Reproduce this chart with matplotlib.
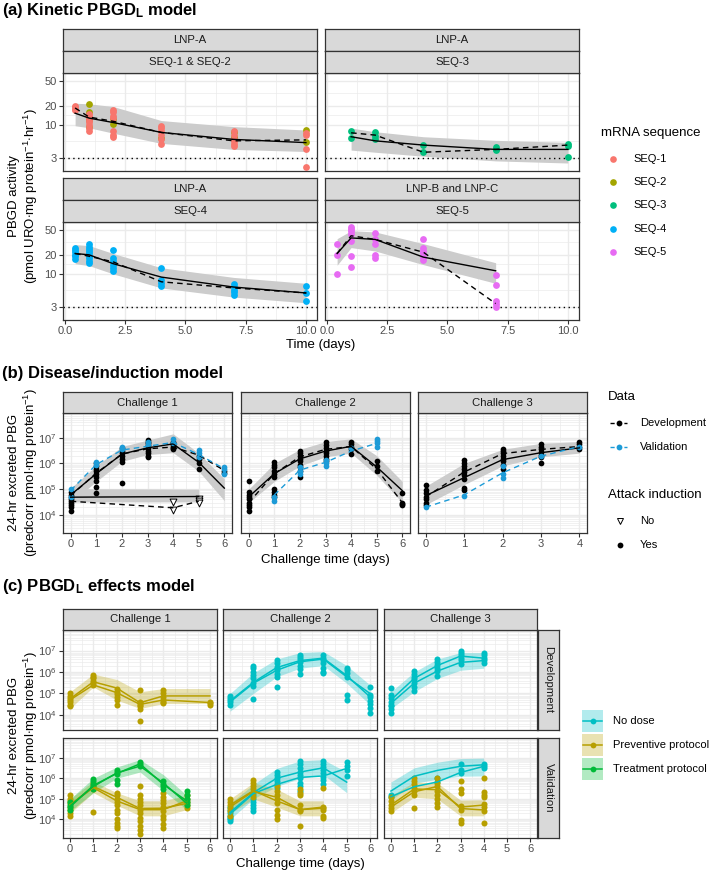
import numpy as np
import matplotlib
matplotlib.use("Agg")
import matplotlib.pyplot as plt
from matplotlib.patches import Rectangle
from matplotlib.ticker import NullFormatter

plt.rcParams['font.family'] = ['Liberation Sans', 'DejaVu Sans']
plt.rcParams['mathtext.fontset'] = 'custom'
plt.rcParams['mathtext.rm'] = 'Liberation Sans'
plt.rcParams['mathtext.bf'] = 'Liberation Sans:bold'
plt.rcParams['mathtext.it'] = 'Liberation Sans:italic'
plt.rcParams['mathtext.default'] = 'rm'

# ── Data : (a) kinetic model ─────────────────────────────────────────────
a_t = [0.42, 1, 2, 4, 7, 10]
seq1_pts = {0.42: [20, 19, 18, 17.5], 1: [15, 14, 13, 12, 11, 10, 9, 8],
            2: [17, 16, 14, 13, 8, 7, 6.5], 4: [9.5, 9, 8, 7, 6, 5],
            7: [8, 7, 6, 5.5, 5, 4.7], 10: [7.5, 7, 4.2, 2.2]}
seq2_pts = {1: [21, 16, 12, 9.3], 2: [12.4, 10.4], 4: [6.3], 7: [7.8, 6.5], 10: [8.2, 5.3]}
f12_model = [15.3, 12.8, 10.9, 7.6, 5.9, 5.25]
f12_obs = [18.5, 13.3, 11.4, 7.6, 5.6, 5.8]
f12_lo = [9.7, 9.0, 7.4, 5.1, 4.1, 3.8]
f12_hi = [22, 21.5, 19.5, 11.7, 9.4, 8.3]

seq3_t = [1, 2, 4, 7, 10]
seq3_pts = {1: [8.0, 6.2], 2: [7.6, 6.6, 6.0], 4: [4.8, 3.7], 7: [4.4, 4.2, 4.0], 10: [5.0, 4.6, 3.1]}
f3_model = [6.5, 5.6, 4.8, 4.1, 4.1]
f3_obs = [7.5, 6.9, 3.7, 4.1, 4.8]
f3_lo = [4.0, 3.7, 3.2, 2.7, 2.5]
f3_hi = [8.9, 7.8, 6.5, 5.7, 5.3]

seq4_pts = {0.42: [26, 24, 22, 20, 19, 17], 1: [30, 27, 25, 23, 21, 19, 18, 16, 15],
            2: [24, 18, 16, 14, 12.5, 11], 4: [12.5, 8, 7.2, 6.5],
            7: [7, 6.2, 5.6, 5.1, 4.6], 10: [6.4, 5.0, 3.7]}
f4_model = [21, 20, 14.5, 8.9, 6.2, 5.0]
f4_obs = [21, 19, 15.5, 7.5, 6.0, 5.0]
f4_lo = [14.5, 13.5, 10, 6, 4.3, 3.5]
f4_hi = [29, 28, 21, 12.5, 8.8, 7.1]

seq5_t = [0.42, 1, 2, 4, 7]
seq5_pts = {0.42: [30, 20, 10], 1: [56, 52, 47, 42, 33, 19, 13], 2: [45, 35, 30, 20, 18],
            4: [36, 26, 23, 21, 18.7, 16.4], 7: [9.5, 6.6, 3.8, 3.3, 3.0]}
f5_model = [21, 37, 35, 18.4, 11.2]
f5_obs = [21, 40, 35, 22, 3.4]
f5_lo = [13.7, 26, 23, 14, 7.1]
f5_hi = [36, 48, 46, 30, 15]

seq_names = ["SEQ-1", "SEQ-2", "SEQ-3", "SEQ-4", "SEQ-5"]
seq_colors = ["#F8766D", "#A3A500", "#00BF7D", "#00B0F6", "#E76BF3"]

# ── Data : (b) disease/induction model ───────────────────────────────────
c1_t = [0, 1, 2, 3, 4, 5, 6]
c1_dev = {0: [8e4, 6e4, 5e4, 4e4, 3.5e4, 3e4, 2.5e4, 2e4, 1.4e4],
          1: [1e6, 8e5, 6e5, 5e5, 4e5, 3e5, 2e5, 1.2e5, 7e4],
          2: [4e6, 3e6, 2.5e6, 2e6, 1.5e6, 1.1e6, 1.7e5],
          3: [8e6, 7e6, 6e6, 5e6, 4e6, 3e6, 2.5e6, 2e6, 1.7e6],
          4: [7e6, 6e6, 5e6, 4.5e6, 4e6, 3.5e6],
          5: [2e6, 1.5e6, 1e6, 6e5], 6: [5e5, 4.3e5]}
c1_val = {0: [1e5, 5e4], 1: [1.1e6, 9e5], 2: [4.5e6, 3.5e6], 3: [7e6, 5e6],
          4: [8.5e6, 6e6], 5: [3.4e6, 2.5e6, 1.8e6], 6: [7e5, 6e5, 4e5]}
c1_model = [6e4, 4e5, 2.3e6, 4e6, 5.7e6, 1.1e6, 1.1e5]
c1_dev_obs = [5.6e4, 4.2e5, 2.3e6, 3.7e6, 4.3e6, 2.1e6, 5.3e5]
c1_val_obs = [9e4, 9e5, 3.3e6, 4.6e6, 6.5e6, 2.2e6, 6.2e5]
c1_lo = [3e4, 2e5, 1.2e6, 2.2e6, 2.6e6, 5e5, 3.6e4]
c1_hi = [1.1e5, 8e5, 4.5e6, 8e6, 1.4e7, 2.5e6, 2.5e5]
no_t = [0, 5]
no_model = [4.9e4, 5.2e4]
no_lo = [3.2e4, 3.2e4]
no_hi = [1.05e5, 1.0e5]
no_obs_t = [0, 4, 5]
no_obs = [3.4e4, 1.9e4, 3.4e4]
no_pts = {4: [3.2e4, 1.5e4], 5: [4e4, 3.4e4, 3e4]}

c2_t = [0, 1, 2, 3, 4, 5, 6]
c2_dev = {0: [2e5, 8e4, 6e4, 5e4, 4e4, 3e4, 2.5e4, 2e4, 1.4e4],
          1: [1.1e6, 9e5, 7e5, 5e5, 4e5, 3e5, 1e5, 8e4, 6e4, 5e4],
          2: [3e6, 2.5e6, 2e6, 1.5e6, 1.2e6, 9e5, 7e5, 5e5, 3e5],
          3: [6.5e6, 5e6, 4e6, 3e6, 2.5e6, 2e6, 1.5e6, 1.2e6],
          4: [6.5e6, 5.5e6, 4.5e6, 3.5e6, 2.3e6],
          5: [1.2e6, 8e5, 5.3e5], 6: [7.3e4, 3e4, 2.7e4, 2.5e4]}
c2_val = {1: [5e4, 3.6e4], 2: [7e5, 5e5, 4e5], 3: [1.3e6, 1e6, 8e5], 4: [4e6],
          5: [9e6, 7.5e6, 6e6, 4.5e6]}
c2_model = [5e4, 4e5, 1.5e6, 3e6, 4.6e6, 7.3e5, 8.8e4]
c2_dev_obs = [3e4, 4e5, 1.8e6, 3.5e6, 4.5e6, 6e5, 3e4]
c2_val_t = [1, 2, 3, 4, 5]
c2_val_obs = [6e4, 5.5e5, 1.1e6, 3e6, 6e6]
c2_lo = [3e4, 2e5, 8e5, 1.8e6, 2.5e6, 3.5e5, 3e4]
c2_hi = [1e5, 1e6, 3.5e6, 7e6, 9e6, 2e6, 2e5]

c3_t = [0, 1, 2, 3, 4]
c3_dev = {0: [1.5e5, 9e4, 7e4, 5e4, 4e4, 3e4, 2.5e4],
          1: [1.3e6, 1e6, 8e5, 6e5, 4.5e5, 3.5e5, 2.5e5, 1.1e5, 9e4],
          2: [3.5e6, 3e6, 2.5e6, 2e6, 1.5e6, 1.2e6, 9e5, 6.3e5],
          3: [5.5e6, 4.5e6, 3.5e6, 2.8e6, 2.2e6, 1.7e6, 1e6],
          4: [6.5e6, 5.5e6, 4.5e6, 3.6e6]}
c3_val = {0: [2.1e4], 1: [5.6e4], 2: [7.7e5, 4e5, 2.8e5], 3: [2e6], 4: [4.5e6]}
c3_model = [5.6e4, 2.8e5, 1.4e6, 2.6e6, 4e6]
c3_dev_obs = [5e4, 4.6e5, 2.4e6, 3.5e6, 4.5e6]
c3_val_obs = [2e4, 6e4, 4.3e5, 1.9e6, 4.5e6]
c3_lo = [2.5e4, 1.5e5, 8e5, 1.8e6, 2.5e6]
c3_hi = [1.3e5, 1e6, 3.5e6, 6e6, 7e6]

# ── Data : (c) PBGD_L effects model ──────────────────────────────────────
# Development row
d1_t = [0, 1, 2, 3, 4, 5, 6]
d1_pts = {0: [1e5, 8e4, 6e4, 5e4, 4e4, 3e4, 2.6e4], 1: [7e5, 6e5, 5e5, 4e5, 3e5, 2.5e5],
          2: [1.7e5, 1.2e5, 9e4, 7e4, 5e4, 3e4], 3: [1.4e5, 4e4, 3.5e4, 3e4, 2.5e4, 2e4, 5.5e3],
          4: [1.5e5, 1e5, 7e4, 5e4, 4e4, 3.5e4], 6: [4e4, 3.5e4, 3e4]}
d1_model = [5.6e4, 3.5e5, 1.8e5, 3.7e4, 7.7e4, 7.7e4, 7.7e4]
d1_obs_t = [0, 1, 2, 3, 4, 6]
d1_obs = [5e4, 2.5e5, 1.1e5, 3.1e4, 5e4, 3.8e4]
d1_lo = [2e4, 2e5, 5e4, 2e4, 3.4e4, 3.4e4, 3.4e4]
d1_hi = [1.2e5, 8e5, 4.5e5, 1.2e5, 1.7e5, 1.7e5, 1.7e5]

d2_t = [0, 1, 2, 3, 4, 5, 6]
d2_pts = {0: [8e4, 6e4, 5e4, 4e4, 3e4], 1: [2e6, 1.5e6, 1e6, 7e5, 5e5, 3e5, 2.2e5, 5.5e4],
          2: [3.7e6, 2.5e6, 1.8e6, 1.2e6, 8e5, 5.8e5, 2.1e5],
          3: [6e6, 5e6, 4e6, 3e6, 2e6, 1.4e6, 8e5], 4: [6e6, 4.5e6, 3.5e6, 2.5e6, 1.5e6, 1e6, 9e5],
          5: [1.6e6, 1.2e6, 9e5, 5.8e5, 8.5e4, 5.2e4],
          6: [2e5, 8.5e4, 7e4, 4.7e4, 3.1e4, 2.1e4, 1.3e4]}
d2_model = [4e4, 3e5, 1.2e6, 3e6, 4e6, 6e5, 1e5]
d2_obs = [4.5e4, 3.3e5, 1.6e6, 3.4e6, 4.4e6, 6.8e5, 7e4]
d2_lo = [1.5e4, 1e5, 6e5, 1.5e6, 2e6, 3e5, 3e4]
d2_hi = [1e5, 9e5, 4e6, 8e6, 9e6, 2e6, 2.5e5]

d3_t = [0, 1, 2, 3, 4]
d3_pts = {0: [1.8e5, 8.5e4, 6e4, 4e4, 3e4, 2.5e4, 2e4, 1.3e4],
          1: [1.1e6, 8e5, 6e5, 4.5e5, 3e5, 2e5, 1.3e5], 2: [4e6, 3e6, 2.2e6, 1.6e6, 1.1e6, 6.8e5],
          3: [1e7, 8e6, 6e6, 4.5e6, 3.5e6, 2.4e6], 4: [7.5e6, 6e6, 4.5e6, 3.5e6, 2.6e6]}
d3_model = [3.5e4, 3e5, 1.1e6, 2.8e6, 3.4e6]
d3_obs = [5e4, 5e5, 2e6, 5.5e6, 4.4e6]
d3_lo = [2e4, 1.2e5, 5e5, 1.2e6, 1.5e6]
d3_hi = [1.2e5, 1e6, 4e6, 8e6, 8e6]

# Validation row
v1_t = [0, 1, 2, 3, 4, 5]
v1_trt_pts = {0: [7e4, 5e4, 4e4, 3e4], 1: [9e5, 7e5, 5e5, 4e5, 3e5],
              2: [2.5e6, 2e6, 1.7e6, 8e5, 5e5], 3: [6e6, 5e6, 4e6],
              4: [7e5, 5e5, 4e5, 3e5], 5: [2.5e5, 1.5e5, 1e5, 7e4, 5e4]}
v1_trt_model = [4.6e4, 4e5, 1.8e6, 3.9e6, 5.9e5, 6.1e4]
v1_trt_obs = [4e4, 4.5e5, 1.7e6, 5e6, 5e5, 8e4]
v1_trt_lo = [2.5e4, 2e5, 1e6, 2e6, 2.5e5, 3e4]
v1_trt_hi = [1e5, 1e6, 3.5e6, 8e6, 1.5e6, 1.5e5]
v1_prv_pts = {0: [1.5e5, 1e5, 8e4, 6e4, 4e4, 3e4, 2e4, 1.4e4], 1: [6e5, 4e5, 3e5, 2.3e4],
              2: [2e5, 1.5e5, 1e5, 7e4, 5e4, 3e4, 2e4, 1e4, 7e3, 5e3, 4e3],
              3: [4e5, 1.5e5, 1e5, 7e4, 5e4, 3e4, 2e4, 1.2e4, 8e3, 5e3, 3e3, 2e3],
              4: [2e5, 1.3e5, 9e4, 6e4, 4e4, 2.5e4, 1.5e4, 1e4, 6e3, 3.7e3],
              5: [1.5e5, 1e5, 7e4, 5e4, 3.5e4]}
v1_prv_model = [5e4, 4e5, 1.2e5, 3.4e4, 3.5e4, 6e4]
v1_prv_obs = [5e4, 3.5e5, 8e4, 3e4, 3e4, 8e4]
v1_prv_lo = [2e4, 2e5, 5e4, 1.5e4, 1.5e4, 3e4]
v1_prv_hi = [1e5, 7e5, 2e5, 8e4, 8e4, 1.5e5]

v2_t = [0, 1, 2, 3, 4, 5]
v2_nd_pts = {0: [4e4, 3e4, 2e4, 1.5e4, 1.2e4, 1e4, 8.5e3], 1: [1.5e5, 1e5, 7e4, 5e4, 3.5e4, 2.7e4],
             2: [2e6, 1.5e6, 1e6, 7e5, 5e5, 3.5e5],
             3: [7e6, 5e6, 3e6, 2e6, 1.5e6, 1e6, 6e5, 4e5, 2.5e5],
             4: [7e6, 5e6, 3.5e6, 2.5e6, 1.8e6, 1.2e6, 8e5, 5e5], 5: [6e6, 4e6, 2.5e6, 1.3e6]}
v2_nd_model = [2.2e4, 2e5, 1e6, 2e6, 3.2e6, 6.5e5]
v2_nd_obs = [1.8e4, 1.8e5, 5e5, 1.1e6, 1.3e6, 3e6]
v2_nd_lo = [1e4, 1e5, 4e5, 1e6, 1.5e6, 2e5]
v2_nd_hi = [6e4, 5e5, 3e6, 7e6, 8e6, 2e6]
v2p_t = [0, 1, 2, 3, 4]
v2_prv_pts = {0: [1e5, 7e4, 5e4, 3.5e4, 2.5e4, 1.5e4], 1: [8e5, 6e5, 4e5, 3e5, 2e5, 1.2e5],
              2: [4e5, 2.5e5, 1.5e5, 1e5, 6e4, 3e4, 1.6e4, 1e4],
              3: [3e5, 2e5, 1.5e5, 5e4, 3e4, 2.5e4, 5e3], 4: [3.5e5, 4e4, 3.5e4, 3e4, 1.4e4, 1.2e4]}
v2_prv_model = [4e4, 2.3e5, 1.2e5, 3e4, 4e4]
v2_prv_obs = [5e4, 2.5e5, 8e4, 3e4, 3.5e4]
v2_prv_lo = [2e4, 1e5, 4e4, 1.5e4, 1.5e4]
v2_prv_hi = [1e5, 6e5, 3e5, 8e4, 8e4]

v3_t = [0, 1, 2, 3, 4]
v3_nd_pts = {0: [1.6e5, 1.2e5], 2: [1.07e6, 6.6e5], 3: [5.2e6, 2.4e6, 1.8e6], 4: [5.2e6, 4e6, 3.2e6]}
v3_nd_model = [2.4e5, 1.25e6, 2.4e6, 3.8e6, 4.5e6]
v3_nd_obs = [1.26e5, 3.9e5, 6.6e5, 1.9e6, 3.8e6]
v3_nd_lo = [8.7e4, 5.7e5, 9e5, 1.25e6, 1.3e6]
v3_nd_hi = [6.6e5, 3.2e6, 6e6, 9e6, 9.5e6]
v3_prv_pts = {0: [1.2e5, 8e4, 5e4, 3.5e4, 2.5e4],
              1: [1e6, 7e5, 5e5, 3.5e5, 2.5e5, 1.5e5, 3.5e4],
              2: [1e6, 6e5, 4e5, 2.5e5, 1.5e5, 1e5, 6e4, 4e4],
              3: [7.7e5, 3e5, 2e5, 4.5e4, 3e4, 9e3, 6.6e3],
              4: [1.07e6, 2.2e5, 1.5e5, 1.2e5, 5.8e4, 4e4, 2.5e4, 6.8e3]}
v3_prv_model = [5e4, 3e5, 2.8e5, 4e4, 5e4]
v3_prv_obs = [4e4, 2.2e5, 4e5, 3.4e4, 2.9e4]
v3_prv_lo = [2.1e4, 1.2e5, 1e5, 1.5e4, 1.5e4]
v3_prv_hi = [1.4e5, 6.6e5, 6e5, 8.7e4, 9e4]

BLUE = "#1D9BD7"
C_ND, C_PRV, C_TRT = "#00BFC4", "#B79F00", "#00BA38"
c_names = ["No dose", "Preventive protocol", "Treatment protocol"]
GRID = "#EBEBEB"
RIB = "#CCCCCC"

# ── Figure ───────────────────────────────────────────────────────────────
W, H = 709, 873
fig = plt.figure(figsize=(W / 100, H / 100), dpi=100)


def pxbox(x0, y0, x1, y1):
    return [x0 / W, 1 - y1 / H, (x1 - x0) / W, (y1 - y0) / H]


def ftext(x, y, s, **kw):
    fig.text(x / W, 1 - y / H, s, **kw)


def strip(x0, y0, x1, y1, text, rot=0):
    s = fig.add_axes(pxbox(x0, y0, x1, y1))
    s.set_facecolor("#D9D9D9")
    s.set_xticks([]); s.set_yticks([])
    for sp in s.spines.values():
        sp.set_color("#333333"); sp.set_linewidth(0.9)
    s.text(0.5, 0.5, text, ha="center", va="center", rotation=rot,
           fontsize=8.2, color="#1A1A1A", transform=s.transAxes)


def setup(ax, xlim, ylim, xmaj, xmin, ymaj, ymin, xlabels, ylabels, showx, showy):
    ax.set_yscale("log")
    ax.set_xlim(*xlim); ax.set_ylim(*ylim)
    ax.set_xticks(xmaj); ax.set_xticks(xmin, minor=True)
    ax.set_yticks(ymaj); ax.set_yticks(ymin, minor=True)
    ax.set_xticklabels(xlabels); ax.set_yticklabels(ylabels)
    ax.yaxis.set_minor_formatter(NullFormatter())
    ax.grid(True, which="major", color=GRID, lw=1.0)
    ax.grid(True, which="minor", color=GRID, lw=0.5)
    ax.set_axisbelow(True)
    ax.tick_params(which="minor", length=0)
    ax.tick_params(which="major", labelsize=8, labelcolor="#4D4D4D",
                   color="#333333", width=0.8, pad=1.5)
    ax.tick_params(axis="x", which="major", length=3 if showx else 0, labelbottom=showx)
    ax.tick_params(axis="y", which="major", length=3 if showy else 0, labelleft=showy)
    for sp in ax.spines.values():
        sp.set_color("#333333"); sp.set_linewidth(0.9)


def dots(ax, pts, color, s, **kw):
    xs = [t for t, vals in pts.items() for v in vals]
    ys = [v for t, vals in pts.items() for v in vals]
    ax.scatter(xs, ys, s=s, color=color, lw=0, zorder=3, **kw)


# ── (a) ──────────────────────────────────────────────────────────────────
ftext(2, 10, r"(a) Kinetic PBGD$_\mathbf{L}$ model", fontsize=12, fontweight="bold", va="center")
a_ylim = (1.87, 66)
a_ymaj = [3, 10, 20, 50]
a_ymin = [5.48, 14.1, 31.6]
a_xmaj = [0, 2.5, 5, 7.5, 10]
a_xmin = [1.25, 3.75, 6.25, 8.75]
a_xlab = ["0.0", "2.5", "5.0", "7.5", "10.0"]
a_ylab = ["3", "10", "20", "50"]

a_facets = [
    ((63, 73, 317, 171), "LNP-A", "SEQ-1 & SEQ-2", a_t, [(seq2_pts, seq_colors[1]), (seq1_pts, seq_colors[0])],
     f12_model, f12_obs, f12_lo, f12_hi, False, True),
    ((325, 73, 579, 171), "LNP-A", "SEQ-3", seq3_t, [(seq3_pts, seq_colors[2])],
     f3_model, f3_obs, f3_lo, f3_hi, False, False),
    ((63, 222, 317, 320), "LNP-A", "SEQ-4", a_t, [(seq4_pts, seq_colors[3])],
     f4_model, f4_obs, f4_lo, f4_hi, True, True),
    ((325, 222, 579, 320), "LNP-B and LNP-C", "SEQ-5", seq5_t, [(seq5_pts, seq_colors[4])],
     f5_model, f5_obs, f5_lo, f5_hi, True, False),
]
for (x0, y0, x1, y1), s1, s2, t, groups, model, obs, lo, hi, showx, showy in a_facets:
    ax = fig.add_axes(pxbox(x0, y0, x1, y1))
    setup(ax, (-0.083, 10.46), a_ylim, a_xmaj, a_xmin, a_ymaj, a_ymin, a_xlab, a_ylab, showx, showy)
    ax.fill_between(t, lo, hi, color=RIB, lw=0, zorder=1)
    ax.axhline(3, color="black", ls=(0, (1, 2.5)), lw=1.0, zorder=2)
    for pts, c in groups:
        dots(ax, pts, c, 24)
    ax.plot(t, obs, color="black", ls=(0, (4, 3)), lw=1.0, zorder=4)
    ax.plot(t, model, color="black", lw=1.0, zorder=4)
    strip(x0, y0 - 44, x1, y0 - 22, s1)
    strip(x0, y0 - 22, x1, y0, s2)

ftext(24, 196, "PBGD activity\n(pmol URO$\\cdot$mg protein$^{-1}$$\\cdot$hr$^{-1}$)",
      rotation=90, ha="center", va="center", fontsize=9.5, multialignment="center", linespacing=1.1)
ftext(321, 345, "Time (days)", ha="center", va="center", fontsize=9.5)

ftext(601, 133, "mRNA sequence", va="center", fontsize=9.5)
for i, (name, c) in enumerate(zip(seq_names, seq_colors)):
    yy = 159 + i * 23.2
    fig.add_artist(plt.Line2D([613 / W], [1 - yy / H], marker="o", ls="", color=c, markersize=4.8,
                              markeredgewidth=0, transform=fig.transFigure))
    ftext(633, yy, name, va="center", fontsize=8)

# ── (b) ──────────────────────────────────────────────────────────────────
ftext(2, 373, "(b) Disease/induction model", fontsize=12, fontweight="bold", va="center")
dec = [1e4, 1e5, 1e6, 1e7]
dec_min = [k * 10.0 ** e for e in range(3, 8) for k in range(2, 10)]
dec_lab = ["$10^{4}$", "$10^{5}$", "$10^{6}$", "$10^{7}$"]
b_ylim = (10 ** 3.97, 10 ** 7.3)

b_facets = [
    ((63, 413, 232, 533), "Challenge 1", c1_t, c1_dev, c1_val, c1_model, c1_dev_obs, c1_t, c1_val_obs,
     c1_lo, c1_hi, (-0.3, 6.3), True),
    ((241, 413, 410, 533), "Challenge 2", c2_t, c2_dev, c2_val, c2_model, c2_dev_obs, c2_val_t, c2_val_obs,
     c2_lo, c2_hi, (-0.3, 6.3), False),
    ((418, 413, 587, 533), "Challenge 3", c3_t, c3_dev, c3_val, c3_model, c3_dev_obs, c3_t, c3_val_obs,
     c3_lo, c3_hi, (-0.2, 4.2), False),
]
for i, ((x0, y0, x1, y1), name, t, dev, val, model, dev_obs, val_t, val_obs, lo, hi, xl, showy) in enumerate(b_facets):
    ax = fig.add_axes(pxbox(x0, y0, x1, y1))
    xmaj = list(range(int(xl[1]) + 1))
    xmin = [v + 0.5 for v in xmaj[:-1]]
    setup(ax, xl, b_ylim, xmaj, xmin, dec, dec_min, [str(v) for v in xmaj], dec_lab, True, showy)
    ax.fill_between(t, lo, hi, color=RIB, lw=0, zorder=1)
    if i == 0:
        ax.fill_between(no_t, no_lo, no_hi, color=RIB, lw=0, zorder=1)
        ax.scatter([k for k, v in no_pts.items() for _ in v], [u for v in no_pts.values() for u in v],
                   marker="v", s=24, facecolor="white", edgecolor="black", lw=0.7, zorder=3)
        ax.plot(no_t, no_model, color="black", lw=1.0, zorder=4)
        ax.plot(no_obs_t, no_obs, color="black", ls=(0, (4, 3)), lw=1.0, zorder=4)
    dots(ax, dev, "black", 17)
    dots(ax, val, BLUE, 17)
    ax.plot(t, model, color="black", lw=1.0, zorder=4)
    ax.plot(t, dev_obs, color="black", ls=(0, (4, 3)), lw=1.0, zorder=4)
    ax.plot(val_t, val_obs, color=BLUE, ls=(0, (4, 3)), lw=1.0, zorder=4)
    strip(x0, 392, x1, 413, name)

ftext(24, 472, "24-hr excreted PBG\n(predcorr pmol$\\cdot$mg protein$^{-1}$)",
      rotation=90, ha="center", va="center", fontsize=9.5, multialignment="center", linespacing=1.1)
ftext(325, 560, "Challenge time (days)", ha="center", va="center", fontsize=9.5)

ftext(608, 397, "Data", va="center", fontsize=9.5)
for yy, c, name in [(423, "black", "Development"), (447, BLUE, "Validation")]:
    fig.add_artist(plt.Line2D([610 / W, 627 / W], [1 - yy / H] * 2, color=c, ls=(0, (3, 2)), lw=1.0,
                              transform=fig.transFigure))
    fig.add_artist(plt.Line2D([618.5 / W], [1 - yy / H], marker="o", ls="", color=c, markersize=4.2,
                              markeredgewidth=0, transform=fig.transFigure))
    ftext(640, yy, name, va="center", fontsize=8)
ftext(608, 495, "Attack induction", va="center", fontsize=9.5)
fig.add_artist(plt.Line2D([620 / W], [1 - 521 / H], marker="v", ls="", markersize=5, markerfacecolor="white",
                          markeredgecolor="black", markeredgewidth=0.7, transform=fig.transFigure))
ftext(640, 521, "No", va="center", fontsize=8)
fig.add_artist(plt.Line2D([620 / W], [1 - 545 / H], marker="o", ls="", markersize=4.2, color="black",
                          markeredgewidth=0, transform=fig.transFigure))
ftext(640, 545, "Yes", va="center", fontsize=8)

# ── (c) ──────────────────────────────────────────────────────────────────
ftext(2, 587, r"(c) PBGD$_\mathbf{L}$ effects model", fontsize=12, fontweight="bold", va="center")
c_cols = [(63, 217), (223, 377), (384, 537)]
c_rows = [(630, 730, (10 ** 3.6, 10 ** 7.22), "Development"), (738, 838, (10 ** 3.1, 10 ** 7.2), "Validation")]
c_cells = {
    (0, 0): [(d1_pts, C_PRV, d1_t, d1_model, d1_obs_t, d1_obs, d1_lo, d1_hi)],
    (0, 1): [(d2_pts, C_ND, d2_t, d2_model, d2_t, d2_obs, d2_lo, d2_hi)],
    (0, 2): [(d3_pts, C_ND, d3_t, d3_model, d3_t, d3_obs, d3_lo, d3_hi)],
    (1, 0): [(v1_prv_pts, C_PRV, v1_t, v1_prv_model, v1_t, v1_prv_obs, v1_prv_lo, v1_prv_hi),
             (v1_trt_pts, C_TRT, v1_t, v1_trt_model, v1_t, v1_trt_obs, v1_trt_lo, v1_trt_hi)],
    (1, 1): [(v2_nd_pts, C_ND, v2_t, v2_nd_model, v2_t, v2_nd_obs, v2_nd_lo, v2_nd_hi),
             (v2_prv_pts, C_PRV, v2p_t, v2_prv_model, v2p_t, v2_prv_obs, v2_prv_lo, v2_prv_hi)],
    (1, 2): [(v3_nd_pts, C_ND, v3_t, v3_nd_model, v3_t, v3_nd_obs, v3_nd_lo, v3_nd_hi),
             (v3_prv_pts, C_PRV, v3_t, v3_prv_model, v3_t, v3_prv_obs, v3_prv_lo, v3_prv_hi)],
}
c_xmaj = list(range(7))
c_xmin = [v + 0.5 for v in range(6)]
for r, (y0, y1, yl, rname) in enumerate(c_rows):
    for ci, (x0, x1) in enumerate(c_cols):
        ax = fig.add_axes(pxbox(x0, y0, x1, y1))
        setup(ax, (-0.3, 6.3), yl, c_xmaj, c_xmin, dec, dec_min, [str(v) for v in c_xmaj], dec_lab,
              r == 1, ci == 0)
        for pts, c, t, model, obs_t, obs, lo, hi in c_cells[(r, ci)]:
            ax.fill_between(t, lo, hi, color=c, alpha=0.3, lw=0, zorder=1)
        for pts, c, t, model, obs_t, obs, lo, hi in c_cells[(r, ci)]:
            dots(ax, pts, c, 19)
            ax.plot(t, model, color=c, lw=1.1, zorder=4)
            ax.plot(obs_t, obs, color=c, lw=1.1, zorder=4)
    strip(538, y0, 559, y1, rname, rot=-90)
for ci, (x0, x1) in enumerate(c_cols):
    strip(x0, 609, x1, 630, f"Challenge {ci + 1}")

ftext(24, 735, "24-hr excreted PBG\n(predcorr pmol$\\cdot$mg protein$^{-1}$)",
      rotation=90, ha="center", va="center", fontsize=9.5, multialignment="center", linespacing=1.1)
ftext(300, 864, "Challenge time (days)", ha="center", va="center", fontsize=9.5)

for i, (name, c) in enumerate(zip(c_names, [C_ND, C_PRV, C_TRT])):
    yy = 721 + i * 24
    fig.add_artist(Rectangle((582 / W, 1 - (yy + 11) / H), 21 / W, 22 / H, facecolor=c, alpha=0.3,
                             lw=0, transform=fig.transFigure))
    fig.add_artist(plt.Line2D([583 / W, 602 / W], [1 - yy / H] * 2, color=c, lw=1.1, transform=fig.transFigure))
    fig.add_artist(plt.Line2D([592.5 / W], [1 - yy / H], marker="o", ls="", color=c, markersize=4.2,
                              markeredgewidth=0, transform=fig.transFigure))
    ftext(613, yy, name, va="center", fontsize=8)

plt.savefig("out.png", dpi=100)
plt.close()
